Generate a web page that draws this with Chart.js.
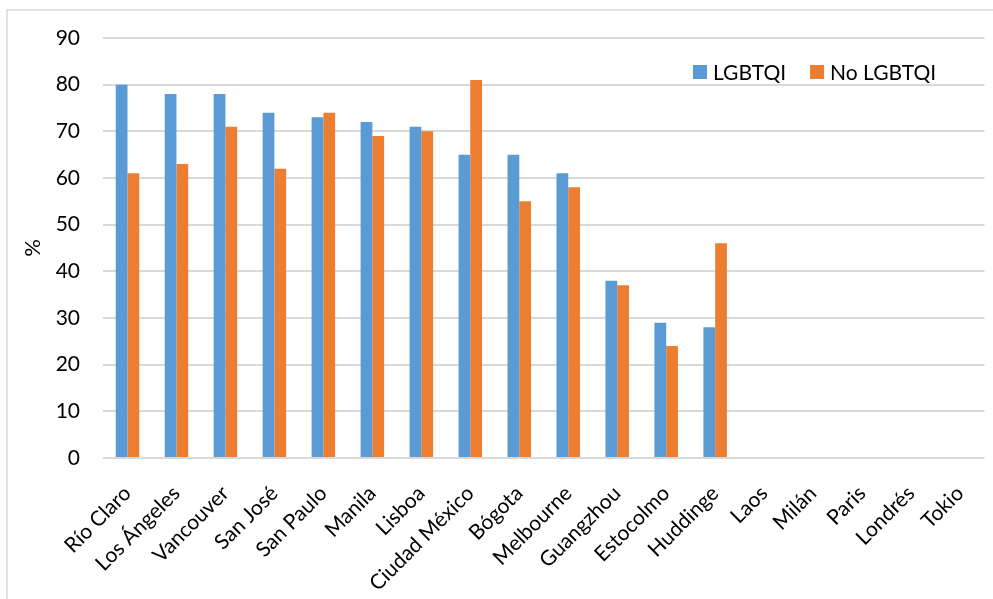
<!DOCTYPE html>
<html>
<head>
<meta charset="utf-8">
<script src="https://cdn.jsdelivr.net/npm/chart.js@4.4.1/dist/chart.umd.min.js"></script>
<style>
  html, body { margin: 0; padding: 0; background: #ffffff; }
  #wrap { width: 993px; height: 599px; position: relative; }
</style>
</head>
<body>
<div id="wrap"><canvas id="c" width="993" height="599"></canvas></div>
<script>
// Ciudades encuestadas
const cities = ['Río Claro', 'Los Ángeles', 'Vancouver', 'San José', 'San Paulo', 'Manila', 'Lisboa',
  'Ciudad México', 'Bógota', 'Melbourne', 'Guangzhou', 'Estocolmo', 'Huddinge', 'Laos', 'Milán',
  'Paris', 'Londrés', 'Tokio'];

// Porcentajes por grupo (sin datos para las últimas ciudades)
const lgbtqi = [80, 78, 78, 74, 73, 72, 71, 65, 65, 61, 38, 29, 28, null, null, null, null, null];
const noLgbtqi = [61, 63, 71, 62, 74, 69, 70, 81, 55, 58, 37, 24, 46, null, null, null, null, null];

const yTicks = [0, 10, 20, 30, 40, 50, 60, 70, 80, 90];

const FONT = 'Lato, "Open Sans", sans-serif';
const FONT_SIZE = 21;

// Marco exterior del gráfico
const framePlugin = {
  id: 'frame',
  beforeDraw(chart) {
    const ctx = chart.ctx;
    ctx.save();
    ctx.fillStyle = '#ffffff';
    ctx.fillRect(0, 0, chart.width, chart.height);
    ctx.strokeStyle = '#d9d9d9';
    ctx.lineWidth = 1.5;
    ctx.strokeRect(7, 10, chart.width + 10, chart.height + 10);
    ctx.restore();
  }
};

// Leyenda dentro del área de trazado, arriba a la derecha
const legendPlugin = {
  id: 'insideLegend',
  afterDraw(chart) {
    const ctx = chart.ctx;
    const area = chart.chartArea;
    ctx.save();
    ctx.font = FONT_SIZE + 'px ' + FONT;
    ctx.textBaseline = 'middle';
    let x = area.left + 590;
    const y = area.top + 34;
    chart.data.datasets.forEach(ds => {
      ctx.fillStyle = ds.backgroundColor;
      ctx.fillRect(x, y - 7, 14, 14);
      ctx.fillStyle = '#000000';
      ctx.fillText(ds.label, x + 20, y + 1);
      x += 20 + ctx.measureText(ds.label).width + 24;
    });
    ctx.restore();
  }
};

new Chart(document.getElementById('c'), {
  type: 'bar',
  data: {
    labels: cities,
    datasets: [
      { label: 'LGBTQI', data: lgbtqi, backgroundColor: '#5B9BD5' },
      { label: 'No LGBTQI', data: noLgbtqi, backgroundColor: '#ED7D31' }
    ]
  },
  options: {
    responsive: false,
    animation: false,
    devicePixelRatio: 1,
    layout: { padding: { left: 0, top: 38, right: 5, bottom: 0 } },
    datasets: { bar: { barPercentage: 1.0, categoryPercentage: 0.48 } },
    plugins: {
      legend: { display: false },
      tooltip: { enabled: false }
    },
    scales: {
      x: {
        grid: { display: false },
        border: { display: false },
        afterFit(axis) { axis.height = 141; },
        ticks: {
          color: '#000000',
          font: { family: FONT, size: FONT_SIZE },
          minRotation: 45,
          maxRotation: 45,
          autoSkip: false,
          padding: 15
        }
      },
      y: {
        min: 0,
        max: 90,
        afterBuildTicks(axis) { axis.ticks = yTicks.map(v => ({ value: v })); },
        afterFit(axis) { axis.width = 103; },
        grid: { color: '#d9d9d9', lineWidth: 2, drawTicks: false },
        border: { display: false },
        ticks: {
          color: '#000000',
          font: { family: FONT, size: FONT_SIZE },
          padding: 23
        },
        title: {
          display: true,
          text: '%',
          color: '#000000',
          font: { family: FONT, size: 22 },
          padding: { top: 20, bottom: 0 }
        }
      }
    }
  },
  plugins: [framePlugin, legendPlugin]
});
</script>
</body>
</html>
